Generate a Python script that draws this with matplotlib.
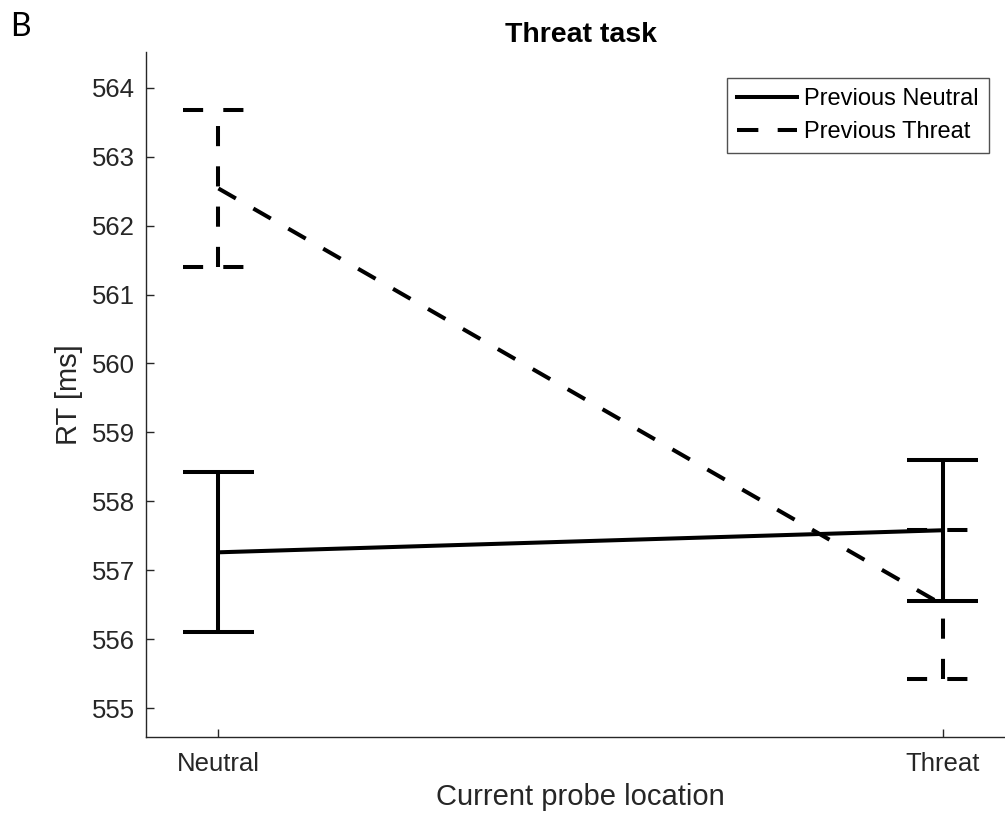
import matplotlib
matplotlib.use("Agg")
import matplotlib.pyplot as plt
from matplotlib.lines import Line2D

# ---- data ----
categories = ["Neutral", "Threat"]
prev_neutral_mean = [557.26, 557.58]
prev_neutral_err = [1.16, 1.02]
prev_threat_mean = [562.54, 556.50]
prev_threat_err = [1.145, 1.08]
series_labels = ["Previous Neutral", "Previous Threat"]
yticks = [555, 556, 557, 558, 559, 560, 561, 562, 563, 564]

plt.rcParams['font.family'] = ['Liberation Sans', 'DejaVu Sans']
axcol = '#262626'

W, H = 1005, 822
fig = plt.figure(figsize=(W / 100, H / 100), dpi=100)
ax = fig.add_axes([146 / W, 1 - 737 / H, (1015 - 146) / W, (737 - 52) / H])

x = [1, 2]
lw = 2.9
cap_half = 0.049
dash = (0, (5, 5))

for mean, err, ls in [(prev_neutral_mean, prev_neutral_err, '-'),
                      (prev_threat_mean, prev_threat_err, dash)]:
    ax.plot(x, mean, color='black', lw=lw, linestyle=ls)
    lo = [m - e for m, e in zip(mean, err)]
    hi = [m + e for m, e in zip(mean, err)]
    ax.vlines(x, lo, hi, color='black', lw=lw, linestyles=[ls])
    ax.hlines(lo, [xi - cap_half for xi in x], [xi + cap_half for xi in x],
              color='black', lw=lw, linestyles=[ls])
    ax.hlines(hi, [xi - cap_half for xi in x], [xi + cap_half for xi in x],
              color='black', lw=lw, linestyles=[ls])

ax.set_xlim(0.9, 2.1)
ax.set_ylim(554.58, 564.52)
ax.set_xticks(x)
ax.set_xticklabels(categories)
ax.set_yticks(yticks)

for s in ['top', 'right']:
    ax.spines[s].set_visible(False)
for s in ['left', 'bottom']:
    ax.spines[s].set_color(axcol)
    ax.spines[s].set_linewidth(1.0)

ax.tick_params(axis='both', direction='in', length=6, width=1.0, colors=axcol,
               labelsize=18.5)
ax.tick_params(axis='x', pad=11)
ax.tick_params(axis='y', pad=8)

ax.set_xlabel("Current probe location", fontsize=21, color=axcol, labelpad=5)
ax.set_ylabel("RT [ms]", fontsize=21, color=axcol, labelpad=6)
ax.set_title("Threat task", fontsize=20.5, fontweight='bold', color='black', pad=7)

handles = [Line2D([], [], color='black', lw=lw, linestyle='-'),
           Line2D([], [], color='black', lw=lw, linestyle=(0, (5.3, 4.8)))]
leg = ax.legend(handles, series_labels, loc='upper right',
                bbox_to_anchor=(989 / W, 1 - 78 / H), bbox_transform=fig.transFigure,
                borderaxespad=0, fontsize=17, frameon=True, fancybox=False,
                handlelength=2.55, handletextpad=0.3, labelspacing=0.47,
                borderpad=0.42)
leg.get_frame().set_edgecolor(axcol)
leg.get_frame().set_linewidth(1.0)

fig.text(10 / W, 1 - 36 / H, "B", fontsize=23, family=['Lato', 'DejaVu Sans'],
         va='baseline', ha='left', color='black')

fig.savefig("out.png", dpi=100)
